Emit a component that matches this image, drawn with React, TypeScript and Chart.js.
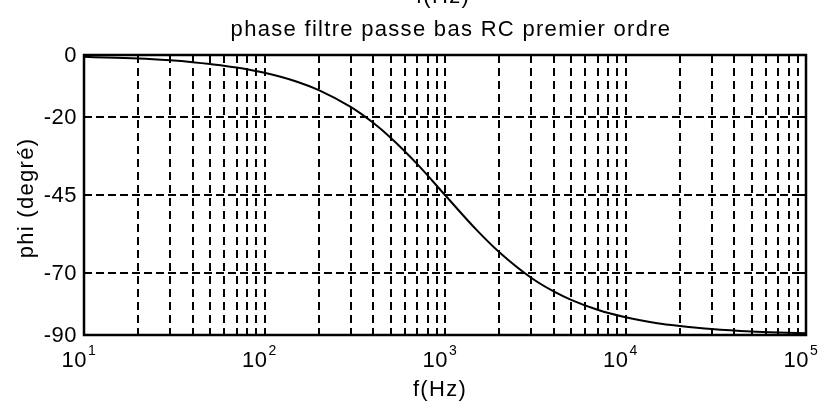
import React, { useEffect, useRef } from 'react';
import { Chart, registerables } from 'chart.js';

Chart.register(...registerables);

// Data
const freqHz = [10, 15, 20, 30, 40, 50, 70, 100, 150, 200, 300, 400, 500, 700, 1000, 1500, 2000, 3000, 4000, 5000, 7000, 10000, 15000, 20000, 30000, 50000, 70000, 100000];
const phaseDeg = [-0.6, -0.9, -1.1, -1.7, -2.3, -2.9, -4.0, -5.7, -8.5, -11.3, -16.7, -21.8, -26.6, -35.0, -45.0, -56.3, -63.4, -71.6, -76.0, -78.7, -81.9, -84.3, -86.2, -87.1, -88.1, -88.9, -89.2, -89.4];

const yTicks = [0, -20, -45, -70, -90];
const xDecadeExponents = [1, 2, 3, 4, 5];
const xDecadeValues = [10, 100, 1000, 10000, 100000];
const xGridValues = [
  20, 30, 40, 50, 60, 70, 80, 90,
  100, 200, 300, 400, 500, 600, 700, 800, 900,
  1000, 2000, 3000, 4000, 5000, 6000, 7000, 8000, 9000,
  10000, 20000, 30000, 40000, 50000, 60000, 70000, 80000, 90000,
];

const titleText = 'phase filtre passe bas RC premier ordre';
const topCutText = 'f(Hz)';
const xLabelText = 'f(Hz)';
const yLabelText = 'phi (degré)';

const FONT = '"Liberation Sans", Arial, Helvetica, sans-serif';

const matlabPlugin = {
  id: 'matlabAxes',
  beforeDatasetsDraw(chart: any) {
    const { ctx, chartArea: a, scales } = chart;
    const xs = scales.x;
    const ys = scales.y;
    ctx.save();
    ctx.strokeStyle = '#000';
    ctx.lineWidth = 2;
    ctx.setLineDash([8, 5]);
    for (const v of xGridValues) {
      const px = Math.round(xs.getPixelForValue(v));
      ctx.beginPath();
      ctx.moveTo(px, a.top);
      ctx.lineTo(px, a.bottom);
      ctx.stroke();
    }
    ctx.setLineDash([8, 4]);
    for (const v of yTicks) {
      if (v === 0 || v === -90) continue;
      const py = Math.round(ys.getPixelForValue(v));
      ctx.beginPath();
      ctx.moveTo(a.left, py);
      ctx.lineTo(a.right, py);
      ctx.stroke();
    }
    ctx.restore();
  },
  afterDatasetsDraw(chart: any) {
    const { ctx, chartArea: a, scales } = chart;
    const xs = scales.x;
    const ys = scales.y;
    ctx.save();
    ctx.strokeStyle = '#000';
    ctx.fillStyle = '#000';
    ctx.setLineDash([]);
    // box
    ctx.lineWidth = 2.5;
    ctx.strokeRect(a.left, a.top, a.right - a.left, a.bottom - a.top);
    // inner ticks
    ctx.lineWidth = 2;
    const tlx = 6;
    for (const v of xGridValues) {
      const px = Math.round(xs.getPixelForValue(v));
      ctx.beginPath();
      ctx.moveTo(px, a.top);
      ctx.lineTo(px, a.top + tlx);
      ctx.moveTo(px, a.bottom);
      ctx.lineTo(px, a.bottom - tlx);
      ctx.stroke();
    }
    for (const v of yTicks) {
      const py = Math.round(ys.getPixelForValue(v));
      ctx.beginPath();
      ctx.moveTo(a.left, py);
      ctx.lineTo(a.left + 7, py);
      ctx.moveTo(a.right, py);
      ctx.lineTo(a.right - 7, py);
      ctx.stroke();
    }
    // y tick labels
    (ctx as any).letterSpacing = '0.5px';
    ctx.font = `22px ${FONT}`;
    ctx.textAlign = 'right';
    ctx.textBaseline = 'middle';
    for (const v of yTicks) {
      const py = ys.getPixelForValue(v);
      ctx.fillText(String(v), a.left - 7, py + 1);
    }
    // x tick labels 10^n
    for (let i = 0; i < xDecadeValues.length; i++) {
      const px = xs.getPixelForValue(xDecadeValues[i]);
      ctx.font = `22px ${FONT}`;
      ctx.textAlign = 'right';
      ctx.textBaseline = 'middle';
      ctx.fillText('10', px + 3, 361);
      ctx.font = `14px ${FONT}`;
      ctx.textAlign = 'left';
      ctx.fillText(String(xDecadeExponents[i]), px + 4, 351);
    }
    // labels with wider spacing
    (ctx as any).letterSpacing = '1.3px';
    ctx.font = `22px ${FONT}`;
    ctx.textAlign = 'center';
    ctx.textBaseline = 'alphabetic';
    const cx = (a.left + a.right) / 2;
    ctx.fillText(titleText, cx + 6, 36);
    ctx.fillText(topCutText, cx - 2, 3);
    ctx.fillText(xLabelText, cx - 5, 396);
    ctx.translate(33, (a.top + a.bottom) / 2 + 3);
    ctx.rotate(-Math.PI / 2);
    ctx.fillText(yLabelText, 0, 0);
    ctx.restore();
  },
};

export default function App() {
  const canvasRef = useRef<HTMLCanvasElement | null>(null);

  useEffect(() => {
    const canvas = canvasRef.current;
    if (!canvas) return;
    const chart = new Chart(canvas, {
      type: 'line',
      data: {
        datasets: [
          {
            data: freqHz.map((f, i) => ({ x: f, y: phaseDeg[i] })),
            borderColor: '#000',
            borderWidth: 2,
            pointRadius: 0,
            fill: false,
            cubicInterpolationMode: 'monotone',
          },
        ],
      },
      options: {
        animation: false,
        responsive: false,
        devicePixelRatio: 1,
        parsing: false as any,
        layout: { padding: { left: 84, right: 18, top: 55, bottom: 70 } },
        plugins: {
          legend: { display: false },
          tooltip: { enabled: false },
          title: { display: false },
        },
        scales: {
          x: { type: 'logarithmic', min: 10, max: 100000, display: false },
          y: { type: 'linear', min: -90, max: 0, display: false },
        },
      },
      plugins: [matlabPlugin],
    });
    return () => chart.destroy();
  }, []);

  return (
    <div style={{ position: 'absolute', left: 0, top: 0, width: 824, height: 405, background: '#fff' }}>
      <canvas ref={canvasRef} width={824} height={405} style={{ display: 'block', width: 824, height: 405 }} />
    </div>
  );
}
